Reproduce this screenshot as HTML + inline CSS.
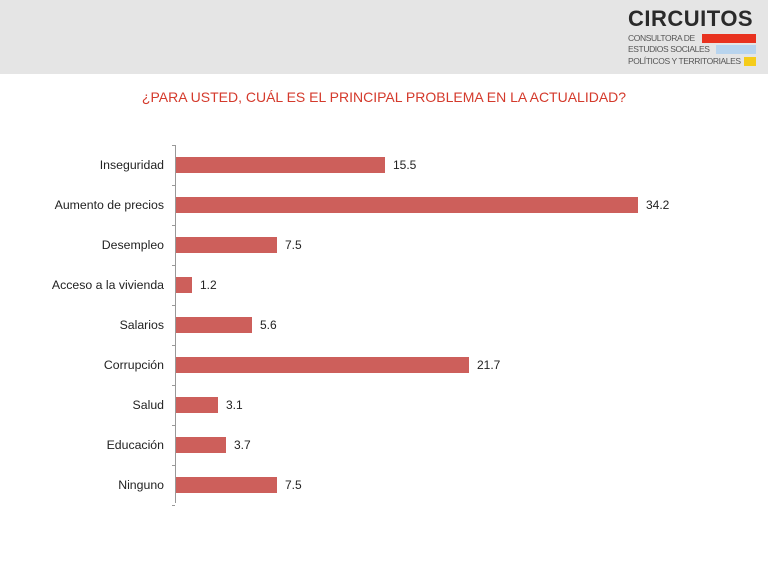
<!DOCTYPE html>
<html><head><meta charset="utf-8"><style>
body{margin:0;width:768px;height:576px;background:#fff;position:relative;overflow:hidden;font-family:"Liberation Sans",sans-serif}
.hdr{position:absolute;left:0;top:0;width:768px;height:74px;background:#e5e5e5}
.logo{position:absolute;left:628px;top:6px;font-weight:bold;font-size:22px;color:#2a2a2a;letter-spacing:0.5px}
.sub{position:absolute;left:628px;font-size:8.5px;color:#555;line-height:11px;letter-spacing:-0.4px;white-space:nowrap}
.title{position:absolute;top:89px;left:0;width:768px;text-align:center;color:#d43a2c;font-size:14px}
.lab{position:absolute;right:604px;font-size:12.3px;color:#222;text-align:right;white-space:nowrap}
.bar{position:absolute;left:176px;height:16px;background:#cd5f5b}
.val{position:absolute;font-size:12px;color:#222}
</style></head><body>
<div class="hdr"></div>
<div class="logo">CIRCUITOS</div>
<div class="sub" style="top:33px">CONSULTORA DE</div>
<div style="position:absolute;left:702px;top:34px;width:54px;height:9px;background:#e8321f"></div>
<div class="sub" style="top:44px">ESTUDIOS SOCIALES</div>
<div style="position:absolute;left:716px;top:45px;width:40px;height:9px;background:#b8d4ee"></div>
<div class="sub" style="top:56px">POLÍTICOS Y TERRITORIALES</div>
<div style="position:absolute;left:744px;top:57px;width:12px;height:9px;background:#f5cc1a"></div>
<div class="title">¿PARA USTED, CUÁL ES EL PRINCIPAL PROBLEMA EN LA ACTUALIDAD?</div>
<div style="position:absolute;left:175px;top:145px;width:1px;height:358px;background:#999"></div>
<div id="c"></div>
<script>
var d=[["Inseguridad",15.5],["Aumento de precios",34.2],["Desempleo",7.5],["Acceso a la vivienda",1.2],["Salarios",5.6],["Corrupción",21.7],["Salud",3.1],["Educación",3.7],["Ninguno",7.5]];
var h="";
for(var i=0;i<=9;i++)h+='<div style="position:absolute;left:172px;top:'+(145+i*40)+'px;width:3px;height:1px;background:#999"></div>';
d.forEach(function(r,i){var cy=165+i*40,w=Math.round(r[1]*13.51);
h+='<div class="lab" style="top:'+(cy-7)+'px">'+r[0]+'</div>';
h+='<div class="bar" style="top:'+(cy-8)+'px;width:'+w+'px"></div>';
h+='<div class="val" style="top:'+(cy-7)+'px;left:'+(176+w+8)+'px">'+r[1].toFixed(1)+'</div>';});
document.getElementById("c").innerHTML=h;
</script>
</body></html>
